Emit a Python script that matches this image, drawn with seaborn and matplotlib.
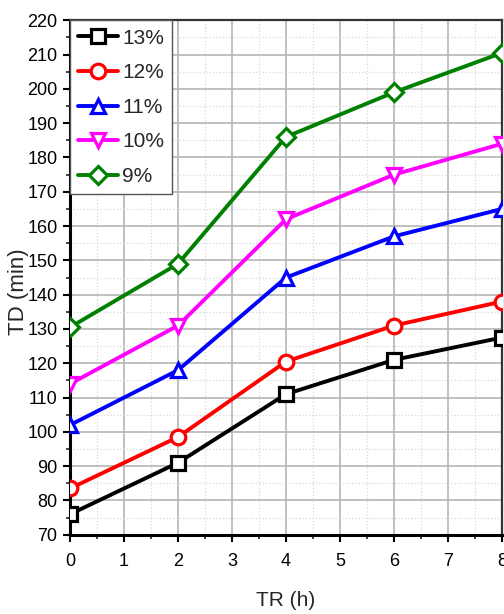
import pandas as pd
import matplotlib
matplotlib.use('Agg')
import matplotlib.pyplot as plt
import seaborn as sns
from matplotlib.ticker import MultipleLocator

# 데이터
tr_hours = [0, 2, 4, 6, 8]
series_names = ['13%', '12%', '11%', '10%', '9%']
td_13 = [76, 91, 111, 121, 127.5]
td_12 = [83.5, 98.5, 120.5, 131, 138]
td_11 = [102, 118, 145, 157, 165]
td_10 = [114, 131, 162, 175, 184]
td_9 = [130.5, 149, 186, 199, 210.5]

colors = ['black', 'red', 'blue', 'magenta', 'green']
marker_list = ['s', 'o', '^', 'v', 'D']

rows = []
for name, vals in zip(series_names, [td_13, td_12, td_11, td_10, td_9]):
    for x, y in zip(tr_hours, vals):
        rows.append({'TR': x, 'TD': y, 'series': name})
df = pd.DataFrame(rows)

sns.set_style('white')
plt.rcParams['font.family'] = ['Liberation Sans', 'DejaVu Sans']

fig = plt.figure(figsize=(5.04, 6.14), dpi=100)
ax = fig.add_axes([0.139, 0.129, 0.857, 0.838])

sns.lineplot(data=df, x='TR', y='TD', hue='series', style='series',
             hue_order=series_names, style_order=series_names,
             palette=dict(zip(series_names, colors)),
             markers=dict(zip(series_names, marker_list)), dashes=False,
             linewidth=2.8, markersize=10.5, legend=False, ax=ax, zorder=3)

# 마커 속 비우기
for line, name, c in zip(ax.lines, series_names, colors):
    line.set_markerfacecolor('white')
    line.set_markeredgecolor(c)
    line.set_markeredgewidth(2.3)
    line.set_label(name)
    if line.get_marker() == 'D':
        line.set_markersize(9.5)

ax.set_xlim(0, 8)
ax.set_ylim(70, 220)
ax.xaxis.set_major_locator(MultipleLocator(1))
ax.xaxis.set_minor_locator(MultipleLocator(0.5))
ax.yaxis.set_major_locator(MultipleLocator(10))
ax.yaxis.set_minor_locator(MultipleLocator(5))

ax.grid(True, which='major', color='#b5b5b5', linewidth=1.2, linestyle='-')
ax.grid(True, which='minor', color='#d8d8d8', linewidth=0.9, linestyle=':')
ax.set_axisbelow(True)

ax.tick_params(which='major', direction='out', length=5, width=1.5, labelsize=13,
               bottom=True, left=True, colors='black')
ax.tick_params(which='minor', direction='out', length=3, width=1.2,
               bottom=True, left=True)
ax.tick_params(axis='x', pad=8)
ax.tick_params(axis='y', pad=4)

for side in ['left', 'bottom']:
    ax.spines[side].set_linewidth(2.2)
    ax.spines[side].set_color('black')
for side in ['top', 'right']:
    ax.spines[side].set_linewidth(1.6)
    ax.spines[side].set_color('#333333')

ax.set_xlabel('TR (h)', fontsize=15)
ax.set_ylabel('TD (min)', fontsize=16)
ax.xaxis.set_label_coords(0.5, -0.110)
ax.yaxis.set_label_coords(-0.096, 0.472)

leg = ax.legend(loc='upper left', fontsize=15, frameon=True, fancybox=False,
                edgecolor='#555555', framealpha=1, handlelength=1.9,
                handletextpad=0.2, labelspacing=0.75, borderpad=0.4,
                borderaxespad=0.0)
leg.get_frame().set_linewidth(1.0)

fig.savefig('out.png', dpi=100)
